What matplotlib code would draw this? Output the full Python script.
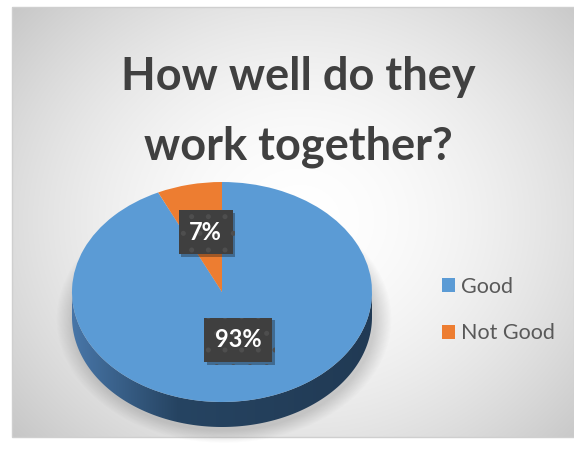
import numpy as np
import matplotlib
matplotlib.use('Agg')
import matplotlib.pyplot as plt
from matplotlib.patches import Wedge, Polygon, Rectangle
from matplotlib.transforms import Affine2D
import matplotlib.patheffects as pe

# ---- data ----
categories = ['Good', 'Not Good']
values = [93, 7]
colors = ['#5B9BD5', '#ED7D31']
title_lines = ['How well do they', 'work together?']

W, H = 574, 459
fig = plt.figure(figsize=(W / 100, H / 100), dpi=100)
ax = fig.add_axes([0, 0, 1, 1])
ax.set_xlim(0, W)
ax.set_ylim(H, 0)
ax.axis('off')

# ---- background (radial gradient frame) ----
fx0, fy0, fx1, fy1 = 12, 7, 574, 437
yy, xx = np.mgrid[fy0:fy1, fx0:fx1] + 0.5
d = np.hypot((xx - 300) / 300, (yy - 220) / 260)
g = 1 - 0.22 * np.clip(d / 1.26, 0, 1.2) ** 1.8
bg = np.dstack([g, g, g])
ax.imshow(bg, extent=[fx0, fx1, fy1, fy0], origin='upper', zorder=0, interpolation='bilinear')
ax.add_patch(Rectangle((fx0, fy0), fx1 - fx0, fy1 - fy0, fill=False, ec='#CFCFCF', lw=1, zorder=1))

# ---- pie geometry ----
cx, cy, a, b, depth = 222, 292, 150, 110, 25
total = float(sum(values))

# shadow under the pie
sy, sx = np.mgrid[0:H, 0:W] + 0.5
rho = np.hypot((sx - cx - 2) / (a + 4), (sy - cy - depth - 2) / (b + 4))
alpha = 0.28 * np.clip((1.09 - rho) / 0.11, 0, 1)
sh = np.zeros((H, W, 4))
sh[..., :3] = 0.4
sh[..., 3] = alpha
ax.imshow(sh, extent=[0, W, H, 0], origin='upper', zorder=2, interpolation='bilinear')

unit = Affine2D().scale(a, -b).translate(cx, cy) + ax.transData

# compute wedge angles (clockwise from 12 o'clock)
wedges = []
start = 90.0
for v in values:
    sweep = 360.0 * v / total
    wedges.append((start - sweep, start))
    start -= sweep


def side_color_img():
    n = 300
    t = np.linspace(0, 1, n)
    c0 = np.array([72, 118, 168]) / 255
    c1 = np.array([38, 68, 98]) / 255
    c2 = np.array([33, 58, 84]) / 255
    cols = np.where(t[:, None] < 0.35,
                    c0 + (c1 - c0) * (t[:, None] / 0.35),
                    c1 + (c2 - c1) * ((t[:, None] - 0.35) / 0.65))
    return cols[None, :, :]


# sides (visible front half: angles 180..360)
for (t1, t2), col in zip(wedges, colors):
    for shift in (-360, 0, 360):
        lo = max(t1 + shift, 180)
        hi = min(t2 + shift, 360)
        if hi > lo:
            th = np.radians(np.linspace(lo, hi, 200))
            top = np.column_stack([cx + a * np.cos(th), cy - b * np.sin(th)])
            bot = top[::-1] + np.array([0, depth])
            poly = Polygon(np.vstack([top, bot]), closed=True, fc='none', ec='none', zorder=3)
            ax.add_patch(poly)
            im = ax.imshow(side_color_img(),
                           extent=[cx - a, cx + a, cy + depth + b + 2, cy - 2],
                           origin='upper', aspect='auto', zorder=3, interpolation='bilinear')
            im.set_clip_path(poly)

# top faces
for (t1, t2), col in zip(wedges, colors):
    ax.add_patch(Wedge((0, 0), 1, t1, t2, fc=col, ec='none', transform=unit, zorder=4))

# data labels
plt.rcParams['hatch.linewidth'] = 1.2
for (t1, t2), v in zip(wedges, values):
    mid = np.radians((t1 + t2) / 2)
    x = cx + 0.5 * a * np.cos(mid)
    y = cy - 0.5 * b * np.sin(mid) - 6
    txt = ax.text(x, y, f'{v / total * 100:.0f}%', ha='center', va='center',
                  fontsize=17, fontweight='bold', family='Lato', color='white', zorder=6,
                  bbox=dict(boxstyle='square,pad=0.45', fc='#3F3F3F', ec='#4E4E4E', lw=0, hatch='.'))
    txt.get_bbox_patch().set_path_effects([pe.SimplePatchShadow(offset=(2, -2), alpha=0.35), pe.Normal()])

# title
ax.text(298, 90, title_lines[0], ha='center', va='baseline', fontsize=32.5, fontweight='bold',
        family='Lato', color='#404040', zorder=5)
ax.text(298, 159, title_lines[1], ha='center', va='baseline', fontsize=32.5, fontweight='bold',
        family='Lato', color='#404040', zorder=5)

# legend
handles = [Rectangle((0, 0), 1, 1, fc=c, ec='none') for c in colors]
fig.legend(handles, categories, loc='upper left', bbox_to_anchor=(442 / W, 1 - 277 / H),
           frameon=False, prop={'family': 'Lato', 'size': 15.5}, labelcolor='#595959',
           handlelength=0.62, handleheight=0.62, handletextpad=0.25, labelspacing=1.22,
           borderpad=0, borderaxespad=0)

fig.savefig('out.png', dpi=100)
